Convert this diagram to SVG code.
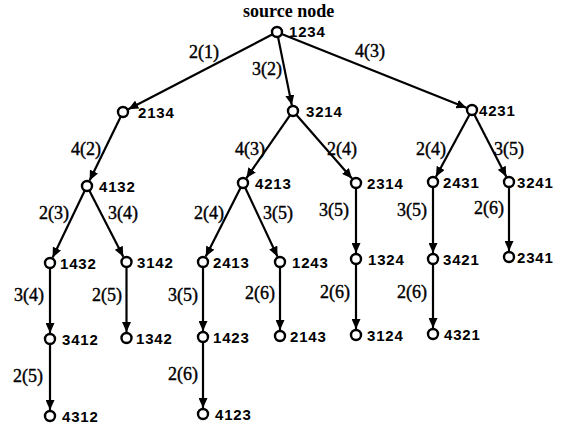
<svg xmlns="http://www.w3.org/2000/svg" width="561" height="429" viewBox="0 0 561 429">
<style>
.n{fill:#fff;stroke:#000;stroke-width:2.4}
.t{font-family:"Liberation Sans",Arial,sans-serif;font-weight:bold;font-size:15px;letter-spacing:0.8px;fill:#000}
.e{font-family:"Liberation Serif","Times New Roman",serif;font-size:18px;fill:#000;stroke:#000;stroke-width:0.4}
.s{font-family:"Liberation Serif","Times New Roman",serif;font-size:18px;font-weight:bold;fill:#000}
.c line{stroke:#000;stroke-width:2.2;marker-end:url(#a)}
</style>
<defs>
<marker id="a" markerUnits="userSpaceOnUse" markerWidth="10" markerHeight="9" viewBox="0 0 10 9" refX="10" refY="4.5" orient="auto">
<path d="M0,0 L10,4.5 L0,9 z" fill="#000"/>
</marker>
</defs>
<rect width="561" height="429" fill="#fff"/>
<text class="s" x="243" y="17">source node</text>
<g class="c" id="connectors">
<line x1="272.6" y1="34.3" x2="128.3" y2="109.2"/>
<line x1="278" y1="36.9" x2="291.8" y2="105.1"/>
<line x1="281.6" y1="33.9" x2="466.4" y2="107.8"/>
<line x1="120.8" y1="116.5" x2="89.6" y2="180.6"/>
<line x1="290.1" y1="115.1" x2="246.4" y2="178.1"/>
<line x1="296.3" y1="114.8" x2="352" y2="178.5"/>
<line x1="469.6" y1="114.4" x2="435.9" y2="176.7"/>
<line x1="474.3" y1="114.4" x2="506.3" y2="176.7"/>
<line x1="84.8" y1="190.5" x2="52.6" y2="257.6"/>
<line x1="89.3" y1="190.4" x2="123.3" y2="256.7"/>
<line x1="240.7" y1="187.5" x2="205.7" y2="256.6"/>
<line x1="245.1" y1="187.5" x2="277.5" y2="256.6"/>
<line x1="356" y1="188" x2="356" y2="253"/>
<line x1="433" y1="187" x2="433" y2="253"/>
<line x1="509" y1="187" x2="509" y2="251"/>
<line x1="50" y1="268" x2="50" y2="333"/>
<line x1="126.5" y1="267" x2="126.5" y2="332"/>
<line x1="203" y1="267" x2="203" y2="331"/>
<line x1="280" y1="267" x2="280" y2="330"/>
<line x1="356" y1="264" x2="356" y2="329"/>
<line x1="433" y1="264" x2="433" y2="328"/>
<line x1="50" y1="344" x2="50" y2="410"/>
<line x1="203" y1="342" x2="203" y2="408"/>
<text class="e" x="189" y="58">2(1)</text>
<text class="e" x="252" y="75">3(2)</text>
<text class="e" x="355" y="57">4(3)</text>
<text class="e" x="71" y="155">4(2)</text>
<text class="e" x="235" y="155">4(3)</text>
<text class="e" x="327" y="155">2(4)</text>
<text class="e" x="416" y="155">2(4)</text>
<text class="e" x="494" y="155">3(5)</text>
<text class="e" x="39" y="219">2(3)</text>
<text class="e" x="108" y="219">3(4)</text>
<text class="e" x="194" y="219">2(4)</text>
<text class="e" x="263" y="219">3(5)</text>
<text class="e" x="319" y="216">3(5)</text>
<text class="e" x="397" y="216">3(5)</text>
<text class="e" x="474" y="214">2(6)</text>
<text class="e" x="14" y="301">3(4)</text>
<text class="e" x="92" y="301">2(5)</text>
<text class="e" x="168" y="301">3(5)</text>
<text class="e" x="245" y="299">2(6)</text>
<text class="e" x="320" y="298">2(6)</text>
<text class="e" x="397" y="298">2(6)</text>
<text class="e" x="13" y="382">2(5)</text>
<text class="e" x="168" y="380">2(6)</text>
</g>
<g id="n1234"><circle class="n" cx="277" cy="32" r="5"/><text class="t" x="289" y="37">1234</text></g>
<g id="n2134"><circle class="n" cx="123" cy="112" r="5"/><text class="t" x="138" y="118">2134</text></g>
<g id="n3214"><circle class="n" cx="293" cy="111" r="5"/><text class="t" x="306" y="117">3214</text></g>
<g id="n4231"><circle class="n" cx="472" cy="110" r="5"/><text class="t" x="479" y="116">4231</text></g>
<g id="n4132"><circle class="n" cx="87" cy="186" r="5"/><text class="t" x="99" y="192">4132</text></g>
<g id="n4213"><circle class="n" cx="243" cy="183" r="5"/><text class="t" x="255" y="189">4213</text></g>
<g id="n2314"><circle class="n" cx="356" cy="183" r="5"/><text class="t" x="367" y="189">2314</text></g>
<g id="n2431"><circle class="n" cx="433" cy="182" r="5"/><text class="t" x="443" y="188">2431</text></g>
<g id="n3241"><circle class="n" cx="509" cy="182" r="5"/><text class="t" x="517" y="188">3241</text></g>
<g id="n1432"><circle class="n" cx="50" cy="263" r="5"/><text class="t" x="60" y="269">1432</text></g>
<g id="n3142"><circle class="n" cx="126.5" cy="262" r="5"/><text class="t" x="137" y="268">3142</text></g>
<g id="n2413"><circle class="n" cx="203" cy="262" r="5"/><text class="t" x="213" y="268">2413</text></g>
<g id="n1243"><circle class="n" cx="280" cy="262" r="5"/><text class="t" x="292" y="268">1243</text></g>
<g id="n1324"><circle class="n" cx="356" cy="259" r="5"/><text class="t" x="368" y="265">1324</text></g>
<g id="n3421"><circle class="n" cx="433" cy="259" r="5"/><text class="t" x="443" y="265">3421</text></g>
<g id="n2341"><circle class="n" cx="509" cy="257" r="5"/><text class="t" x="517" y="263">2341</text></g>
<g id="n3412"><circle class="n" cx="50" cy="339" r="5"/><text class="t" x="62" y="345">3412</text></g>
<g id="n1342"><circle class="n" cx="126.5" cy="338" r="5"/><text class="t" x="136" y="344">1342</text></g>
<g id="n1423"><circle class="n" cx="203" cy="337" r="5"/><text class="t" x="213" y="343">1423</text></g>
<g id="n2143"><circle class="n" cx="280" cy="336" r="5"/><text class="t" x="290" y="342">2143</text></g>
<g id="n3124"><circle class="n" cx="356" cy="335" r="5"/><text class="t" x="367" y="341">3124</text></g>
<g id="n4321"><circle class="n" cx="433" cy="334" r="5"/><text class="t" x="444" y="340">4321</text></g>
<g id="n4312"><circle class="n" cx="50" cy="416" r="5"/><text class="t" x="62" y="422">4312</text></g>
<g id="n4123"><circle class="n" cx="203" cy="414" r="5"/><text class="t" x="215" y="420">4123</text></g>
</svg>
